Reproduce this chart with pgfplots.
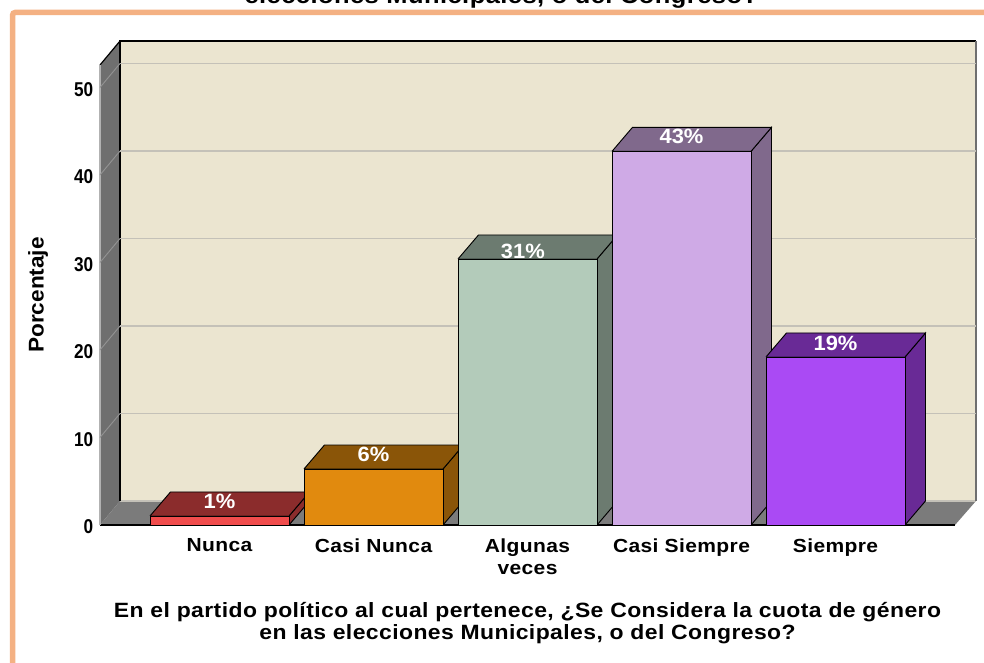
\documentclass[border=0pt]{standalone}
\usepackage{fontspec}
\usepackage{pgfplots}
\pgfplotsset{compat=1.18}
\setmainfont{Liberation Sans}
\newfontfamily\lab[FakeStretch=1.11,LetterSpace=2]{Liberation Sans}
\newfontfamily\num[FakeStretch=0.86]{Liberation Sans}
\newfontfamily\perc[FakeStretch=1.06]{Liberation Sans}
\definecolor{wallc}{HTML}{EBE5D0}
\definecolor{sidec}{HTML}{6F6F6F}
\definecolor{floorc}{HTML}{7B7B7B}
\definecolor{gridc}{HTML}{C4C1B8}
\definecolor{framec}{HTML}{F4B183}
\definecolor{redf}{HTML}{F04C4C}
\definecolor{redt}{HTML}{8B2C2C}
\definecolor{orgf}{HTML}{E18A0E}
\definecolor{orgt}{HTML}{8A5508}
\definecolor{grnf}{HTML}{B3CBBA}
\definecolor{grnt}{HTML}{6C7B70}
\definecolor{lilf}{HTML}{CFAAE6}
\definecolor{lilt}{HTML}{80698C}
\definecolor{purf}{HTML}{AA4AF4}
\definecolor{purt}{HTML}{692A96}

% bar: category position, value, front colour, top/side colour
\newcommand{\threedbar}[4]{%
  \pgfmathsetmacro{\xl}{#1-0.4513}%
  \pgfmathsetmacro{\xr}{#1+0.4513}%
  \pgfmathsetmacro{\xlb}{\xl+0.133}%
  \pgfmathsetmacro{\xrb}{\xr+0.133}%
  \pgfmathsetmacro{\yb}{#2+2.743}%
  \edef\temp{%
    \noexpand\addplot[fill=#4,draw=black,line width=0.7pt] coordinates {(\xr,0)(\xrb,2.743)(\xrb,\yb)(\xr,#2)(\xr,0)};
    \noexpand\addplot[fill=#4,draw=black,line width=0.7pt] coordinates {(\xl,#2)(\xlb,\yb)(\xrb,\yb)(\xr,#2)(\xl,#2)};
    \noexpand\addplot[fill=#3,draw=black,line width=0.7pt] coordinates {(\xl,0)(\xr,0)(\xr,#2)(\xl,#2)(\xl,0)};
  }\temp
}

\begin{document}
\begin{tikzpicture}
\clip (-75pt,-102.75pt) rectangle (663pt,393.75pt);
\fill[white] (-75pt,-102.75pt) rectangle (663pt,393.75pt);
\draw[framec,line width=4.1pt,rounded corners=2pt] (-65.6pt,-110pt) -- (-65.6pt,384.4pt) -- (670pt,384.4pt);
\node[font=\lab\bfseries\fontsize{17.2pt}{18pt}\selectfont,anchor=base] at (301pt,391.5pt) {elecciones Municipales, o del Congreso?};
\begin{axis}[
    scale only axis,
    width=641.25pt, height=345pt,
    xmin=-0.776, xmax=4.776,
    ymin=0, ymax=52.57,
    clip=false,
    axis line style={draw=none},
    major tick length=0pt,
    every axis plot/.append style={mark=none},
    ytick={0,10,20,30,40,50},
    xtick={0,1,2,3,4},
    xticklabels={Nunca,Casi Nunca,{Algunas\\veces},Casi Siempre,Siempre},
    xticklabel style={align=center,yshift=-6.5pt,font=\lab\bfseries\fontsize{14.2pt}{16.5pt}\selectfont},
    yticklabel style={xshift=-1.5pt,yshift=-1.5pt,font=\num\bfseries\fontsize{15pt}{17pt}\selectfont},
    /pgf/number format/assume math mode=true,
    xlabel={En el partido político al cual pertenece, ¿Se Considera la cuota de género\\en las elecciones Municipales, o del Congreso?},
    every axis x label/.style={at={(axis description cs:0.5,-0.2135)},anchor=center,align=center,font=\lab\bfseries\fontsize{15.5pt}{17pt}\selectfont},
    ylabel={Porcentaje},
    every axis y label/.style={at={(axis description cs:-0.0725,0.5)},anchor=center,rotate=90,font=\perc\bfseries\fontsize{16pt}{18pt}\selectfont},
]
% walls and floor
\addplot[fill=wallc,draw=none] coordinates {(-0.646,2.743)(-0.646,55.31)(4.912,55.31)(4.912,2.743)(-0.646,2.743)};
\addplot[fill=sidec,draw=none] coordinates {(-0.776,0)(-0.776,52.57)(-0.646,55.31)(-0.646,2.743)(-0.776,0)};
\addplot[fill=floorc,draw=none] coordinates {(-0.776,0)(-0.646,2.743)(4.912,2.743)(4.776,0)(-0.776,0)};
\addplot[draw=gridc,line width=1pt] coordinates {(-0.646,2.743)(4.912,2.743)};
\addplot[draw=black,line width=1pt] coordinates {(-0.646,2.743)(-0.646,55.31)(4.912,55.31)};
\addplot[draw=black,line width=0.9pt] coordinates {(-0.776,52.57)(-0.646,55.31)};
\addplot[draw=black,line width=0.9pt] coordinates {(-0.776,0)(4.776,0)};
\addplot[draw=gray!60,line width=0.8pt] coordinates {(-0.776,0)(-0.776,52.57)};
\addplot[draw=sidec,line width=1.2pt] coordinates {(4.912,2.743)(4.912,55.31)};
% gridlines, back wall then left wall
\foreach \v in {10,20,30,40,50}{
  \pgfmathsetmacro{\w}{\v+2.743}
  \edef\temp{\noexpand\addplot[draw=gridc,line width=1.4pt] coordinates {(-0.646,\w)(4.912,\w)};
    \noexpand\addplot[draw=gray!85,line width=0.7pt] coordinates {(-0.776,\v)(-0.646,\w)};}
  \temp
}
\threedbar{0}{1.03}{redf}{redt}
\threedbar{1}{6.4}{orgf}{orgt}
\threedbar{2}{30.4}{grnf}{grnt}
\threedbar{3}{42.7}{lilf}{lilt}
\threedbar{4}{19.2}{purf}{purt}
% percentage labels on the top faces
\addplot[draw=none,nodes near coords,point meta=explicit symbolic,
  every node near coord/.append style={anchor=center,text=white,font=\perc\bfseries\fontsize{15.5pt}{17pt}\selectfont}]
  coordinates {(0,2.74)[1\%](1,8.1)[6\%](1.97,31.3)[31\%](3,44.46)[43\%](4,20.8)[19\%]};
\end{axis}
\end{tikzpicture}
\end{document}
